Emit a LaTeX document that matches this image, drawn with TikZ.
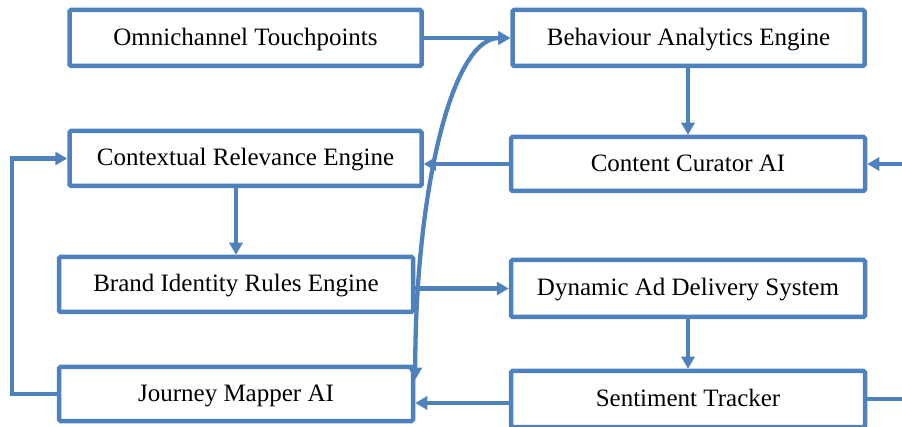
\documentclass[tikz,border=0pt]{standalone}
\usepackage{fontspec}
\setmainfont{Liberation Serif}
\usetikzlibrary{arrows.meta}
\definecolor{lineblue}{HTML}{4F81BD}
\begin{document}
\begin{tikzpicture}[x=1pt,y=-1pt,
 box/.style={draw=lineblue,line width=4.5pt,rounded corners=1.5pt,minimum width=352pt,minimum height=56pt,inner sep=0pt,text height=17pt,text depth=2pt,font=\fontsize{25}{30}\selectfont,fill=white},
 tip/.tip={Triangle[length=12pt,width=13pt]},
 conn/.style={draw=lineblue,line width=4.3pt,-tip},
 twoway/.style={draw=lineblue,line width=4.3pt,tip-tip},
 plainline/.style={draw=lineblue,line width=4.3pt}]
\useasboundingbox (0,0) rectangle (902,427);

\node[box] (omni) at (245.5,38) {Omnichannel Touchpoints};
\node[box] (beh) at (688.5,38) {Behaviour Analytics Engine};
\node[box,minimum height=55pt] (ctx) at (245.5,158.5) {Contextual Relevance Engine};
\node[box,minimum width=354pt,minimum height=54pt] (cc) at (688,164) {Content Curator AI};
\node[box,minimum width=354pt,minimum height=55pt] (brand) at (236,284.5) {Brand Identity Rules Engine};
\node[box,minimum width=354pt,minimum height=57pt] (dyn) at (688,288.5) {Dynamic Ad Delivery System};
\node[box,minimum width=354pt,minimum height=54pt] (jm) at (236,394) {Journey Mapper AI};
\node[box,minimum width=354pt,minimum height=56pt] (sent) at (688,399) {Sentiment Tracker};

\coordinate (rin) at (902,164);
\coordinate (rout) at (902,399);

\draw[conn] (omni.east) -- (beh.west);
\draw[conn] (cc.north |- beh.south) -- (cc.north);
\draw[conn] (cc.west) -- (cc.west -| ctx.east);
\draw[conn] (rin) -- (cc.east);
\draw[conn] (brand.north |- ctx.south) -- (brand.north);
\draw[conn] (dyn.west -| brand.east) -- (dyn.west);
\draw[conn] (dyn.south) -- (sent.north);
\draw[conn] ([yshift=-4pt]sent.west) -- ([yshift=-4pt]sent.west -| jm.east);
\draw[plainline] (sent.east) -- (rout);
\draw[conn] (jm.west) -- ++(-45,0) |- (ctx.west);
\draw[twoway] (beh.west) .. controls (450,38) and (415,200) .. ([yshift=-15pt]jm.north east);
\end{tikzpicture}
\end{document}
